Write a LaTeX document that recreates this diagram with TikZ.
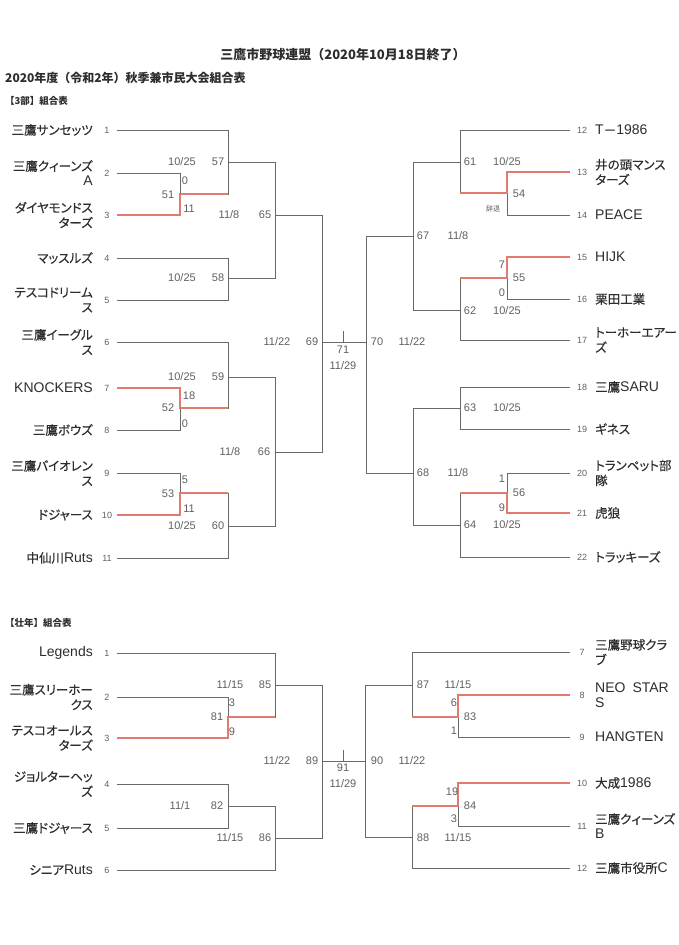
\documentclass[tikz,border=0pt]{standalone}
\usepackage{fontspec}
\setmainfont{Noto Sans CJK JP}
\newfontfamily\jpfont[RawFeature=+palt,FakeBold=0.3]{Noto Sans CJK JP}
\newfontfamily\latfont{Liberation Sans}
\usetikzlibrary{calc}
\definecolor{winred}{RGB}{226,122,112}
\definecolor{linegray}{RGB}{105,105,105}
\definecolor{txtgray}{RGB}{45,45,45}
\definecolor{numgray}{RGB}{95,95,95}
% Latin part of a team name
\def\latn#1{{\latfont\fontsize{14}{15}\selectfont #1}}
% team entries: coordinate name, y, number, team name
\def\lteam#1#2#3#4{\coordinate (#1) at (117,#2); \node[num] (#1n) at (107,#2) {#3}; \node[lname] (#1t) at (93,#2) {#4};}
\def\rteam#1#2#3#4{\coordinate (#1) at (570,#2); \node[num] (#1n) at (582,#2) {#3}; \node[rname] (#1t) at (595,#2) {#4};}

\begin{document}
\begin{tikzpicture}[x=1pt,y=-1pt,
	bline/.style={draw=linegray, line width=0.9pt},
	wline/.style={draw=winred, line width=2.8pt},
	lname/.style={anchor=east, align=right, inner sep=0, text=txtgray, font=\jpfont\fontsize{12.5}{15}\selectfont},
	rname/.style={anchor=west, align=left, inner sep=0, text=txtgray, font=\jpfont\fontsize{12.5}{15}\selectfont},
	num/.style={inner sep=0, text=numgray, font=\latfont\fontsize{9}{10}\selectfont},
	lbl/.style={inner sep=0, text=numgray, font=\latfont\fontsize{11}{12}\selectfont}]
			%%%%% START %%%%%
			\useasboundingbox (0,0) rectangle (678,945);
			
			\node[font=\bfseries\fontsize{13}{15}\selectfont, text=txtgray] (title) at (343,55) {三鷹市野球連盟（2020年10月18日終了）};
			\node[anchor=west, inner sep=0, font=\bfseries\fontsize{12}{14}\selectfont, text=txtgray] (sub) at (5,78) {2020年度（令和2年）秋季兼市民大会組合表};
			\node[anchor=west, inner sep=0, font=\bfseries\fontsize{9.5}{11}\selectfont, text=txtgray] (head3) at (5,101) {【3部】組合表};
			\node[anchor=west, inner sep=0, font=\bfseries\fontsize{9.5}{11}\selectfont, text=txtgray] (headS) at (5,623) {【壮年】組合表};
			
			%%%%% 3部 left %%%%%
			\lteam{t1}{130}{1}{三鷹サンセッツ}
			\lteam{t2}{173}{2}{三鷹クィーンズ\\\latn{A}}
			\lteam{t3}{215}{3}{ダイヤモンドス\\ターズ}
			\lteam{t4}{258}{4}{マッスルズ}
			\lteam{t5}{300}{5}{テスコドリーム\\ス}
			\lteam{t6}{342}{6}{三鷹イーグル\\ス}
			\lteam{t7}{388}{7}{\latn{KNOCKERS}}
			\lteam{t8}{430}{8}{三鷹ボウズ}
			\lteam{t9}{473}{9}{三鷹バイオレン\\ス}
			\lteam{t10}{515}{10}{ドジャース}
			\lteam{t11}{558}{11}{中仙川\latn{Ruts}}
			
			\coordinate (m51) at (180,194);
			\coordinate (m57) at (228,162);
			\coordinate (m58) at (228,278);
			\coordinate (m65) at (275,215);
			\coordinate (m52) at (180,408);
			\coordinate (m59) at (228,377);
			\coordinate (m53) at (180,493);
			\coordinate (m60) at (228,526);
			\coordinate (m66) at (275,452);
			\coordinate (m69) at (322,342);
			
			\draw[bline] (t2) -| (m51);  \draw[bline] (t3) -| (m51);
			\draw[bline] (t1) -| (m57);  \draw[bline] (m51) -| (m57);
			\draw[bline] (t4) -| (m58);  \draw[bline] (t5) -| (m58);
			\draw[bline] (m57) -| (m65); \draw[bline] (m58) -| (m65);
			\draw[bline] (t7) -| (m52);  \draw[bline] (t8) -| (m52);
			\draw[bline] (t6) -| (m59);  \draw[bline] (m52) -| (m59);
			\draw[bline] (t9) -| (m53);  \draw[bline] (t10) -| (m53);
			\draw[bline] (m53) -| (m60); \draw[bline] (t11) -| (m60);
			\draw[bline] (m59) -| (m66); \draw[bline] (m60) -| (m66);
			\draw[bline] (m65) -| (m69); \draw[bline] (m66) -| (m69);
			
			\draw[wline] (t3) -| (m51) -- (m51 -| m57);
			\draw[wline] (t7) -| (m52) -- (m52 -| m59);
			\draw[wline] (t10) -| (m53) -- (m53 -| m60);
			
			\node[lbl] at (182,162) {10/25}; \node[lbl] at (218,162) {57};
			\node[lbl] at (185,181) {0};
			\node[lbl] at (168,195) {51};
			\node[lbl] at (189,209) {11};
			\node[lbl] at (229,215) {11/8}; \node[lbl] at (265,215) {65};
			\node[lbl] at (182,278) {10/25}; \node[lbl] at (218,278) {58};
			\node[lbl] at (182,377) {10/25}; \node[lbl] at (218,377) {59};
			\node[lbl] at (189,396) {18};
			\node[lbl] at (168,408) {52};
			\node[lbl] at (185,424) {0};
			\node[lbl] at (230,452) {11/8}; \node[lbl] at (264,452) {66};
			\node[lbl] at (185,480) {5};
			\node[lbl] at (168,494) {53};
			\node[lbl] at (189,509) {11};
			\node[lbl] at (182,526) {10/25}; \node[lbl] at (218,526) {60};
			\node[lbl] at (277,342) {11/22}; \node[lbl] at (312,342) {69};
			
			%%%%% 3部 final %%%%%
			\coordinate (m70) at (366,342);
			\coordinate (c71) at (343,342);
			\draw[bline] (m69) -- (m70);
			\draw[bline] (c71) -- ++(0,-11);
			\node[lbl] at (343,350) {71};
			\node[lbl] at (343,366) {11/29};
			\node[lbl] at (377,342) {70}; \node[lbl] at (412,342) {11/22};
			
			%%%%% 3部 right %%%%%
			\rteam{t12}{130}{12}{\latn{T}－\latn{1986}}
			\rteam{t13}{172}{13}{井の頭マンス\\ターズ}
			\rteam{t14}{215}{14}{\latn{PEACE}}
			\rteam{t15}{257}{15}{\latn{HIJK}}
			\rteam{t16}{299}{16}{栗田工業}
			\rteam{t17}{340}{17}{トーホーエアー\\ズ}
			\rteam{t18}{387}{18}{三鷹\latn{SARU}}
			\rteam{t19}{429}{19}{ギネス}
			\rteam{t20}{473}{20}{トランペット部\\隊}
			\rteam{t21}{513}{21}{虎狼}
			\rteam{t22}{557}{22}{トラッキーズ}
			
			\coordinate (m54) at (507,193);
			\coordinate (m61) at (460,162);
			\coordinate (m55) at (507,278);
			\coordinate (m62) at (460,310);
			\coordinate (m67) at (413,236);
			\coordinate (m63) at (460,408);
			\coordinate (m56) at (507,493);
			\coordinate (m64) at (460,525);
			\coordinate (m68) at (413,473);
			
			\draw[bline] (t13) -| (m54); \draw[bline] (t14) -| (m54);
			\draw[bline] (t12) -| (m61); \draw[bline] (m54) -| (m61);
			\draw[bline] (t15) -| (m55); \draw[bline] (t16) -| (m55);
			\draw[bline] (m55) -| (m62); \draw[bline] (t17) -| (m62);
			\draw[bline] (m61) -| (m67); \draw[bline] (m62) -| (m67);
			\draw[bline] (t18) -| (m63); \draw[bline] (t19) -| (m63);
			\draw[bline] (t20) -| (m56); \draw[bline] (t21) -| (m56);
			\draw[bline] (m56) -| (m64); \draw[bline] (t22) -| (m64);
			\draw[bline] (m63) -| (m68); \draw[bline] (m64) -| (m68);
			\draw[bline] (m67) -| (m70); \draw[bline] (m68) -| (m70);
			
			\draw[wline] (t13) -| (m54) -- (m54 -| m61);
			\draw[wline] (t15) -| (m55) -- (m55 -| m62);
			\draw[wline] (t21) -| (m56) -- (m56 -| m64);
			
			\node[lbl] at (470,162) {61}; \node[lbl] at (507,162) {10/25};
			\node[lbl] at (519,194) {54};
			\node[lbl, font=\fontsize{7}{8}\selectfont] at (493,209) {辞退};
			\node[lbl] at (423,236) {67}; \node[lbl] at (458,236) {11/8};
			\node[lbl] at (502,265) {7};
			\node[lbl] at (519,278) {55};
			\node[lbl] at (502,293) {0};
			\node[lbl] at (470,311) {62}; \node[lbl] at (507,311) {10/25};
			\node[lbl] at (470,408) {63}; \node[lbl] at (507,408) {10/25};
			\node[lbl] at (423,473) {68}; \node[lbl] at (458,473) {11/8};
			\node[lbl] at (502,479) {1};
			\node[lbl] at (519,493) {56};
			\node[lbl] at (502,508) {9};
			\node[lbl] at (470,525) {64}; \node[lbl] at (507,525) {10/25};
			
			%%%%% 壮年 left %%%%%
			\lteam{b1}{653}{1}{\latn{Legends}}
			\lteam{b2}{697}{2}{三鷹スリーホー\\クス}
			\lteam{b3}{738}{3}{テスコオールス\\ターズ}
			\lteam{b4}{784}{4}{ジョルターヘッ\\ズ}
			\lteam{b5}{828}{5}{三鷹ドジャース}
			\lteam{b6}{870}{6}{シニア\latn{Ruts}}
			
			\coordinate (m81) at (228,717);
			\coordinate (m85) at (275,685);
			\coordinate (m82) at (228,806);
			\coordinate (m86) at (275,838);
			\coordinate (m89) at (322,761);
			
			\draw[bline] (b2) -| (m81);  \draw[bline] (b3) -| (m81);
			\draw[bline] (b1) -| (m85);  \draw[bline] (m81) -| (m85);
			\draw[bline] (b4) -| (m82);  \draw[bline] (b5) -| (m82);
			\draw[bline] (m82) -| (m86); \draw[bline] (b6) -| (m86);
			\draw[bline] (m85) -| (m89); \draw[bline] (m86) -| (m89);
			
			\draw[wline] (b3) -| (m81) -- (m81 -| m85);
			
			\node[lbl] at (230,685) {11/15}; \node[lbl] at (265,685) {85};
			\node[lbl] at (232,703) {3};
			\node[lbl] at (217,717) {81};
			\node[lbl] at (232,732) {9};
			\node[lbl] at (180,806) {11/1}; \node[lbl] at (217,806) {82};
			\node[lbl] at (230,838) {11/15}; \node[lbl] at (265,838) {86};
			\node[lbl] at (277,761) {11/22}; \node[lbl] at (312,761) {89};
			
			%%%%% 壮年 final %%%%%
			\coordinate (m90) at (365,761);
			\coordinate (c91) at (343,761);
			\draw[bline] (m89) -- (m90);
			\draw[bline] (c91) -- ++(0,-11);
			\node[lbl] at (343,768) {91};
			\node[lbl] at (343,784) {11/29};
			\node[lbl] at (377,761) {90}; \node[lbl] at (412,761) {11/22};
			
			%%%%% 壮年 right %%%%%
			\rteam{b7}{652}{7}{三鷹野球クラ\\ブ}
			\rteam{b8}{695}{8}{\latn{NEO\enspace STAR}\\\latn{S}}
			\rteam{b9}{737}{9}{\latn{HANGTEN}}
			\rteam{b10}{783}{10}{大成\latn{1986}}
			\rteam{b11}{826}{11}{三鷹クィーンズ\\\latn{B}}
			\rteam{b12}{868}{12}{三鷹市役所\latn{C}}
			
			\coordinate (m83) at (458,717);
			\coordinate (m87) at (412,685);
			\coordinate (m84) at (458,806);
			\coordinate (m88) at (412,837);
			
			\draw[bline] (b8) -| (m83);  \draw[bline] (b9) -| (m83);
			\draw[bline] (b7) -| (m87);  \draw[bline] (m83) -| (m87);
			\draw[bline] (b10) -| (m84); \draw[bline] (b11) -| (m84);
			\draw[bline] (m84) -| (m88); \draw[bline] (b12) -| (m88);
			\draw[bline] (m87) -| (m90); \draw[bline] (m88) -| (m90);
			
			\draw[wline] (b8) -| (m83) -- (m83 -| m87);
			\draw[wline] (b10) -| (m84) -- (m84 -| m88);
			
			\node[lbl] at (423,685) {87}; \node[lbl] at (458,685) {11/15};
			\node[lbl] at (454,703) {6};
			\node[lbl] at (470,717) {83};
			\node[lbl] at (454,731) {1};
			\node[lbl] at (452,792) {19};
			\node[lbl] at (470,806) {84};
			\node[lbl] at (454,819) {3};
			\node[lbl] at (423,838) {88}; \node[lbl] at (458,838) {11/15};
			
			%%%%% END %%%%%
\end{tikzpicture}
\end{document}
